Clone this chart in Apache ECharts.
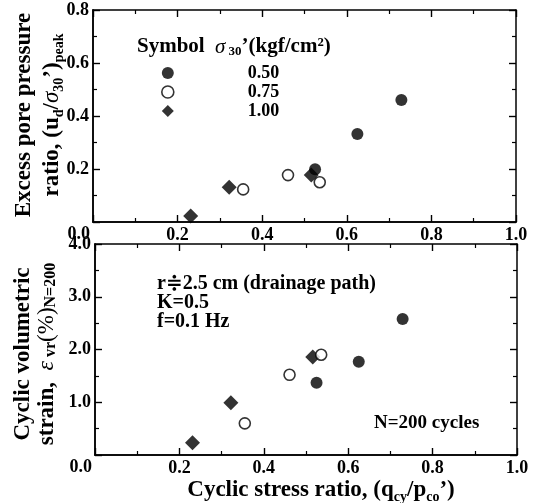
<!DOCTYPE html>
<html>
<head>
<meta charset="utf-8">
<script src="https://cdn.jsdelivr.net/npm/echarts@6/dist/echarts.min.js"></script>
<style>
  html, body { margin: 0; padding: 0; background: #fff; }
  #main { width: 539px; height: 503px; }
</style>
</head>
<body>
<div id="main"></div>
<script>
// cyclic stress ratio qcy/pco' (same tests in both panels)
var csr050 = [0.525, 0.625, 0.729];
var csr075 = [0.355, 0.461, 0.536];
var csr100 = [0.231, 0.322, 0.516];
// excess pore pressure ratio (ud/σ30')peak
var pp050 = [0.199, 0.332, 0.460];
var pp075 = [0.123, 0.177, 0.150];
var pp100 = [0.023, 0.131, 0.177];
// cyclic volumetric strain εvr(%) at N=200
var ev050 = [1.37, 1.77, 2.58];
var ev075 = [0.60, 1.52, 1.90];
var ev100 = [0.23, 0.99, 1.86];
// tick labels (the 0.0 ones are placed by hand below)
var xTicks = ['0.0', '0.2', '0.4', '0.6', '0.8', '1.0'];
var ppTicks = ['0.0', '0.2', '0.4', '0.6', '0.8'];
var evTicks = ['0.0', '1.0', '2.0', '3.0', '4.0'];
var pressures = ['0.50', '0.75', '1.00'];

var FONT = '"Liberation Serif", "DejaVu Serif", serif';

function pts(xs, ys) {
    return xs.map(function (x, i) { return [x, ys[i]]; });
}

// labelled axes draw no ticks (they got lost), ticks come from label-less twins
function axis(grid, pos, min, max, step, labels) {
    return {
        type: 'value', gridIndex: grid, position: pos,
        min: min, max: max, interval: step,
        axisLine: { show: true, onZero: false, lineStyle: { color: '#000', width: 1.5 } },
        axisTick: { show: !labels, inside: true, length: 7, lineStyle: { color: '#000', width: 1.4 } },
        minorTick: { show: !labels, splitNumber: 2, length: 4, lineStyle: { color: '#000', width: 1.2 } },
        splitLine: { show: false },
        axisLabel: labels ? {
            show: true, margin: 4, color: '#000', fontFamily: FONT, fontWeight: 'bold', fontSize: 18,
            showMinLabel: false,
            formatter: function (v, i) { return labels[i]; }
        } : { show: false }
    };
}

var sub = { fontFamily: FONT, fontWeight: 'bold', fontSize: 14, lineHeight: 14, verticalAlign: 'bottom', color: '#000' };
var big = { fontFamily: FONT, fontWeight: 'bold', fontSize: 23, lineHeight: 28, color: '#000' };
var grk = { fontFamily: FONT, fontStyle: 'italic', fontSize: 23, lineHeight: 28, color: '#000' };
var richTop = { a: big, s: sub, g: grk };
var richBot = {
    a: { fontFamily: FONT, fontWeight: 'bold', fontSize: 23, lineHeight: 24, color: '#000' },
    n: { fontFamily: FONT, fontSize: 23, lineHeight: 24, color: '#000' },
    g: { fontFamily: FONT, fontStyle: 'italic', fontSize: 24, lineHeight: 24, color: '#000' },
    s: { fontFamily: FONT, fontWeight: 'bold', fontSize: 16, lineHeight: 12, verticalAlign: 'bottom', color: '#000' }
};

var txt = { fontFamily: FONT, fontWeight: 'bold', fontSize: 21, lineHeight: 22, color: '#000' };
var txtSub = { fontFamily: FONT, fontWeight: 'bold', fontSize: 13, lineHeight: 12, verticalAlign: 'bottom', color: '#000' };
var txtGrk = { fontFamily: FONT, fontStyle: 'italic', fontSize: 21, lineHeight: 22, color: '#000' };

var filled = { symbol: 'circle', symbolSize: 12, itemStyle: { color: '#000' } };
var open = { symbol: 'circle', symbolSize: 11, itemStyle: { color: '#fff', borderColor: '#000', borderWidth: 1.6 } };
var diam = { symbol: 'diamond', symbolSize: 15, itemStyle: { color: '#000' } };

function scatter(name, style, xi, data) {
    return {
        type: 'scatter', name: name, xAxisIndex: xi, yAxisIndex: xi,
        symbol: style.symbol, symbolSize: style.symbolSize, itemStyle: style.itemStyle,
        data: data, silent: true
    };
}

var topRect = { left: 93, top: 10, width: 423, height: 212 };
var botRect = { left: 95, top: 244, width: 422, height: 211 };

var chart = echarts.init(document.getElementById('main'));
chart.setOption({
    animation: false,
    backgroundColor: '#fff',
    grid: [topRect, botRect, topRect, botRect],
    xAxis: [
        axis(0, 'bottom', 0, 1, 0.2, xTicks),
        axis(0, 'top', 0, 1, 0.2, null),
        axis(1, 'bottom', 0, 1, 0.2, xTicks),
        axis(1, 'top', 0, 1, 0.2, null),
        axis(2, 'bottom', 0, 1, 0.2, null),
        axis(3, 'bottom', 0, 1, 0.2, null)
    ],
    yAxis: [
        axis(0, 'left', 0, 0.8, 0.2, ppTicks),
        axis(0, 'right', 0, 0.8, 0.2, null),
        axis(1, 'left', 0, 4, 1, evTicks),
        axis(1, 'right', 0, 4, 1, null),
        axis(2, 'left', 0, 0.8, 0.2, null),
        axis(3, 'left', 0, 4, 1, null)
    ],
    legend: {
        data: [
            { name: '0.50', itemStyle: filled.itemStyle, icon: 'circle' },
            { name: '0.75', itemStyle: open.itemStyle, icon: 'circle' },
            { name: '1.00', itemStyle: diam.itemStyle, icon: 'diamond' }
        ],
        orient: 'vertical', left: 161, top: 64, padding: 0,
        itemWidth: 12, itemHeight: 12, itemGap: 1, selectedMode: false,
        formatter: '{v|{name}}',
        textStyle: { rich: { v: { fontFamily: FONT, fontWeight: 'bold', fontSize: 18, lineHeight: 13, color: '#000', padding: [0, 0, 0, 69] } } }
    },
    series: [
        scatter('0.50', filled, 0, pts(csr050, pp050)),
        scatter('1.00', diam, 0, pts(csr100, pp100)),
        scatter('0.75', open, 0, pts(csr075, pp075)),
        scatter('0.50', filled, 2, pts(csr050, ev050)),
        scatter('1.00', diam, 2, pts(csr100, ev100)),
        scatter('0.75', open, 2, pts(csr075, ev075))
    ],
    graphic: [
        // y titles
        { type: 'text', x: 38, y: 115, rotation: Math.PI / 2,
          style: { text: '{a|Excess pore pressure}\n{a|ratio, (u}{s|d}{a|/}{g|σ}{s|30}{a|’)}{s|peak}',
                   rich: richTop, align: 'center', verticalAlign: 'middle' } },
        { type: 'text', x: 35, y: 354, rotation: Math.PI / 2,
          style: { text: '{a|Cyclic volumetric}\n{a|strain,  }{g|ε}{s| vr}{n|(%)}{s|N=200}',
                   rich: richBot, align: 'center', verticalAlign: 'middle' } },
        // x title
        { type: 'text', x: 321, y: 490,
          style: { text: '{a|Cyclic stress ratio, (q}{s|cy}{a|/p}{s|co}{a|’)}',
                   rich: richTop, align: 'center', verticalAlign: 'middle' } },
        // zero labels sitting between / below the panels
        { type: 'text', x: 90, y: 234, style: { text: ppTicks[0], font: 'bold 18px ' + FONT, fill: '#000', align: 'right', verticalAlign: 'middle' } },
        { type: 'text', x: 92, y: 467, style: { text: xTicks[0], font: 'bold 18px ' + FONT, fill: '#000', align: 'right', verticalAlign: 'middle' } },
        // legend header
        { type: 'text', x: 137, y: 47,
          style: { text: '{t|Symbol}', rich: { t: txt }, align: 'left', verticalAlign: 'middle' } },
        { type: 'text', x: 215, y: 47,
          style: { text: '{g|σ}{s| 30}{t|’(kgf/cm²)}', rich: { t: txt, s: txtSub, g: txtGrk }, align: 'left', verticalAlign: 'middle' } },
        // test conditions
        { type: 'text', x: 157, y: 303,
          style: { text: 'r≑2.5 cm (drainage path)\nK=0.5\nf=0.1 Hz', font: 'bold 20px ' + FONT, lineHeight: 19,
                   fill: '#000', align: 'left', verticalAlign: 'middle' } },
        { type: 'text', x: 374, y: 423,
          style: { text: 'N=200 cycles', font: 'bold 19px ' + FONT, fill: '#000', align: 'left', verticalAlign: 'middle' } }
    ]
});
</script>
</body>
</html>
